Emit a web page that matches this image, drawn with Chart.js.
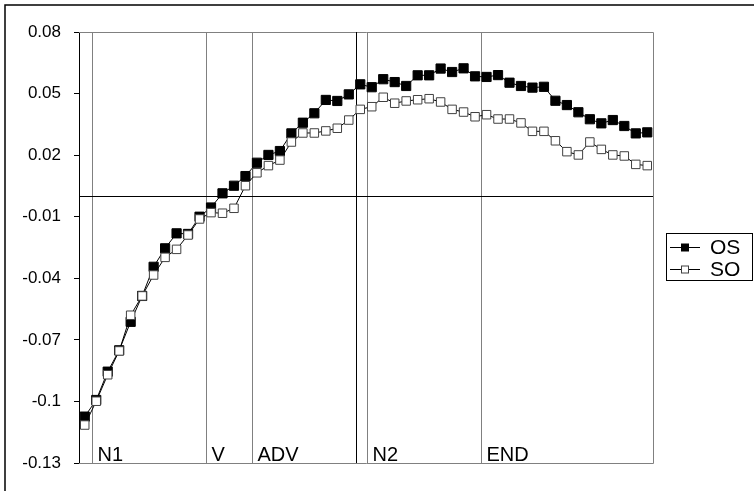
<!DOCTYPE html>
<html>
<head>
<meta charset="utf-8">
<script src="https://cdn.jsdelivr.net/npm/chart.js@4.4.1/dist/chart.umd.min.js"></script>
<style>
  html, body { margin: 0; padding: 0; background: #fff; }
  #wrap { width: 754px; height: 491px; position: relative; }
</style>
</head>
<body>
<div id="wrap"><canvas id="chart"></canvas></div>
<script>
const sessions = [
  1, 2, 3, 4, 5, 6, 7, 8, 9, 10, 11, 12, 13, 14, 15, 16, 17, 18, 19, 20, 21, 22, 23, 24, 25,
  26, 27, 28, 29, 30, 31, 32, 33, 34, 35, 36, 37, 38, 39, 40, 41, 42, 43, 44, 45, 46, 47, 48, 49, 50,
];
const osValues = [
  -0.1074, -0.0993, -0.0855, -0.0751, -0.0612, -0.0486, -0.0344, -0.0254, -0.0181, -0.0184,
  -0.0100, -0.0055, 0.0014, 0.0051, 0.0098, 0.0163, 0.0201, 0.0220, 0.0306, 0.0358,
  0.0404, 0.0469, 0.0464, 0.0496, 0.0545, 0.0531, 0.0570, 0.0556, 0.0537, 0.0589,
  0.0589, 0.0622, 0.0605, 0.0623, 0.0584, 0.0581, 0.0590, 0.0553, 0.0537, 0.0529,
  0.0533, 0.0465, 0.0444, 0.0409, 0.0375, 0.0355, 0.0371, 0.0342, 0.0306, 0.0311,
];
const soValues = [
  -0.1115, -0.0999, -0.0870, -0.0754, -0.0580, -0.0486, -0.0384, -0.0298, -0.0259, -0.0189,
  -0.0111, -0.0080, -0.0083, -0.0059, 0.0051, 0.0114, 0.0149, 0.0176, 0.0264, 0.0308,
  0.0308, 0.0318, 0.0331, 0.0371, 0.0423, 0.0436, 0.0482, 0.0453, 0.0464, 0.0470,
  0.0475, 0.0459, 0.0423, 0.0410, 0.0387, 0.0397, 0.0376, 0.0376, 0.0357, 0.0316,
  0.0316, 0.0270, 0.0217, 0.0201, 0.0264, 0.0228, 0.0201, 0.0196, 0.0155, 0.0149,
];
const yTicks = [-0.13, -0.1, -0.07, -0.04, -0.01, 0.02, 0.05, 0.08];
// phase boundaries, in session index units
const phaseAt = [0.6, 10.55, 14.55, 23.6, 24.55, 34.5];
const phaseNames = ["N1", "V", "ADV", "", "N2", "END"];

const FONT = "'Liberation Sans', Arial, sans-serif";

const decor = {
  id: "decor",
  beforeDatasetsDraw(chart) {
    const { ctx, chartArea: a, scales } = chart;
    const x = scales.x, y = scales.y;
    const L = Math.round(a.left), R = Math.round(a.right);
    const T = Math.round(a.top), B = Math.round(a.bottom);
    ctx.save();
    ctx.lineWidth = 1;
    // plot frame
    ctx.strokeStyle = "#808080";
    ctx.beginPath();
    ctx.moveTo(L, T + 0.5); ctx.lineTo(R + 0.5, T + 0.5);
    ctx.lineTo(R + 0.5, B + 0.5); ctx.lineTo(L, B + 0.5);
    ctx.stroke();
    // phase lines + names
    ctx.font = "20px " + FONT;
    ctx.textAlign = "left";
    ctx.textBaseline = "alphabetic";
    ctx.fillStyle = "#000";
    phaseAt.forEach((p, i) => {
      const px = Math.round(x.getPixelForValue(p)) + 0.5;
      ctx.strokeStyle = phaseNames[i] ? "#808080" : "#000";
      ctx.beginPath();
      ctx.moveTo(px, T);
      ctx.lineTo(px, B);
      ctx.stroke();
      if (phaseNames[i]) ctx.fillText(phaseNames[i], px + 5, B - 2);
    });
    // zero line
    const zy = Math.round(y.getPixelForValue(0)) + 0.5;
    ctx.strokeStyle = "#000";
    ctx.beginPath();
    ctx.moveTo(L, zy); ctx.lineTo(R, zy);
    ctx.stroke();
    ctx.restore();
  },
  afterDraw(chart) {
    const { ctx } = chart;
    ctx.save();
    // outer border
    ctx.strokeStyle = "#000";
    ctx.lineWidth = 1.5;
    ctx.strokeRect(5, 5, 780, 520);
    // legend
    const bx = 666.5, by = 233.5, bw = 86, bh = 47;
    ctx.lineWidth = 1;
    ctx.strokeStyle = "#000";
    ctx.strokeRect(bx, by, bw, bh);
    ctx.font = "21px " + FONT;
    ctx.textBaseline = "middle";
    ctx.textAlign = "left";
    chart.data.datasets.slice().sort((d1, d2) => d2.order - d1.order).forEach((ds, i) => {
      const cy = Math.round(by + 13 + i * 22) + 0.5;
      ctx.strokeStyle = "#000";
      ctx.beginPath();
      ctx.moveTo(670, cy); ctx.lineTo(700, cy);
      ctx.stroke();
      ctx.fillStyle = ds.pointBackgroundColor;
      ctx.fillRect(681.5, cy - 3.5, 7, 7);
      ctx.strokeStyle = ds.pointBorderColor;
      ctx.strokeRect(681.5, cy - 3.5, 7, 7);
      ctx.fillStyle = "#000";
      ctx.fillText(ds.label, 710, cy + 1);
    });
    ctx.restore();
  },
};

new Chart(document.getElementById("chart"), {
  type: "line",
  data: {
    labels: sessions,
    datasets: [
      {
        label: "OS",
        data: osValues,
        order: 1,
        borderColor: "#000",
        borderWidth: 1,
        pointStyle: "rect",
        pointRadius: 6.5,
        pointBackgroundColor: "#000",
        pointBorderColor: "#000",
        pointBorderWidth: 1,
        tension: 0,
      },
      {
        label: "SO",
        data: soValues,
        order: 0,
        borderColor: "#000",
        borderWidth: 1,
        pointStyle: "rect",
        pointRadius: 6,
        pointBackgroundColor: "#fff",
        pointBorderColor: "#404040",
        pointBorderWidth: 1,
        tension: 0,
      },
    ],
  },
  options: {
    responsive: true,
    maintainAspectRatio: false,
    animation: false,
    devicePixelRatio: 1,
    layout: { padding: { top: 32, right: 101, bottom: 28, left: 0 } },
    plugins: { legend: { display: false }, tooltip: { enabled: false } },
    scales: {
      x: { type: "category", display: false, offset: true },
      y: {
        min: -0.13,
        max: 0.08,
        afterFit(scale) { scale.width = 79; },
        afterBuildTicks(scale) { scale.ticks = yTicks.map((v) => ({ value: v })); },
        ticks: {
          padding: 13,
          color: "#000",
          font: { family: FONT, size: 17 },
          callback: (v) => String(Number(v.toFixed(2))),
        },
        grid: { drawOnChartArea: false, drawTicks: true, tickLength: 5, color: "#000" },
        border: { color: "#000", width: 1 },
      },
    },
  },
  plugins: [decor],
});
</script>
</body>
</html>
